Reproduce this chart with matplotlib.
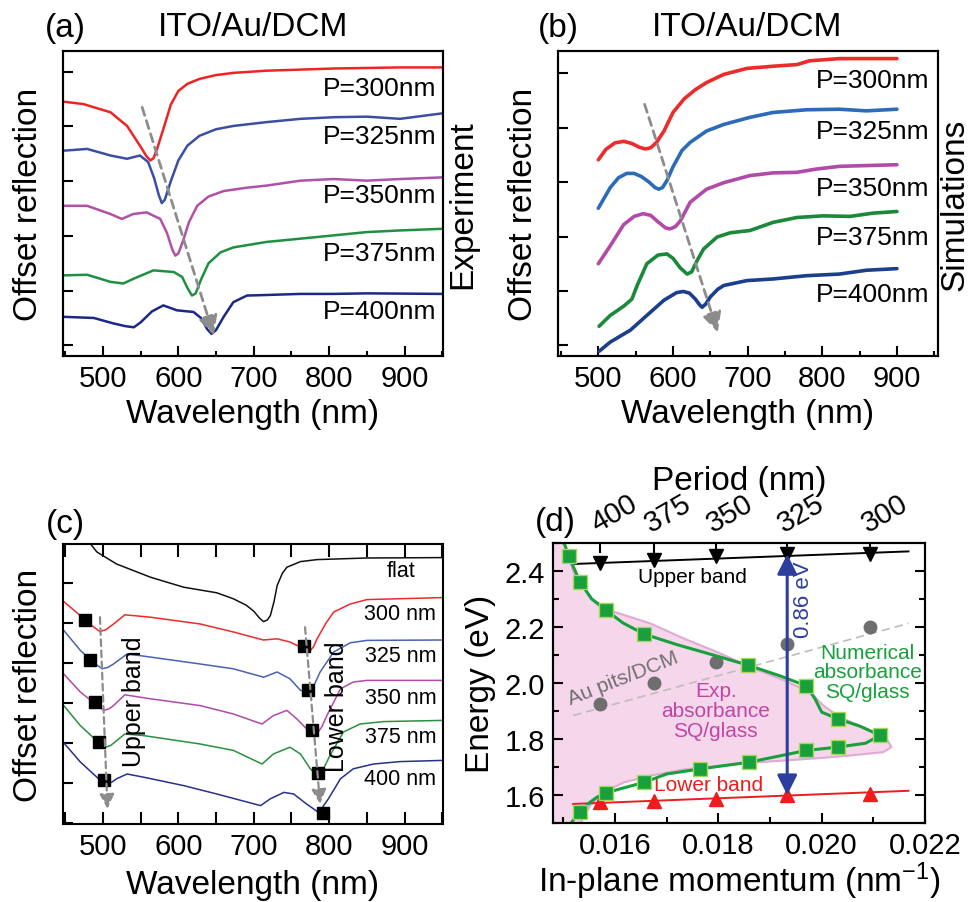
import numpy as np
import matplotlib
matplotlib.use("Agg")
from matplotlib import pyplot as plt
from matplotlib.ticker import MultipleLocator

plt.rcParams['font.family'] = ['Liberation Sans', 'DejaVu Sans']
plt.rcParams['mathtext.default'] = 'regular'
plt.rcParams['axes.linewidth'] = 1.5

# ---------------- panel (a): experiment, ITO/Au/DCM ----------------
a_periods = ["P=300nm", "P=325nm", "P=350nm", "P=375nm", "P=400nm"]
a_label_y = [4.71, 3.82, 2.74, 1.69, 0.62]
a_colors = ["#ee2424", "#3b4ea5", "#b050a8", "#1e9040", "#1c2888"]

a300_wl = [450, 474, 510, 532, 549, 558, 563, 567, 572, 580, 590, 600, 612, 628, 650, 673, 717, 762, 806, 850, 894, 950]
a300_y = [4.45, 4.41, 4.26, 4.01, 3.65, 3.45, 3.38, 3.42, 3.60, 3.95, 4.40, 4.65, 4.78, 4.87, 4.94, 4.98, 5.02, 5.04, 5.06, 5.07, 5.08, 5.08]
a325_wl = [450, 479, 510, 532, 549, 560, 568, 574, 578, 582, 590, 600, 612, 628, 650, 673, 717, 762, 806, 850, 894, 950]
a325_y = [3.56, 3.59, 3.47, 3.41, 3.47, 3.35, 3.05, 2.75, 2.60, 2.66, 3.00, 3.38, 3.65, 3.83, 3.95, 4.01, 4.08, 4.14, 4.17, 4.18, 4.14, 4.24]
a350_wl = [450, 479, 510, 525, 540, 558, 576, 585, 592, 596, 600, 606, 614, 625, 640, 660, 690, 717, 762, 806, 850, 894, 950]
a350_y = [2.55, 2.55, 2.40, 2.31, 2.40, 2.43, 2.31, 2.05, 1.75, 1.64, 1.68, 1.90, 2.25, 2.55, 2.72, 2.82, 2.88, 2.92, 3.01, 3.04, 3.01, 3.04, 3.07]
a375_wl = [450, 479, 510, 527, 541, 567, 594, 605, 612, 618, 623, 630, 640, 656, 673, 717, 762, 806, 850, 894, 950]
a375_y = [1.28, 1.29, 1.16, 1.13, 1.22, 1.37, 1.34, 1.25, 1.05, 0.91, 0.95, 1.20, 1.50, 1.70, 1.79, 1.89, 1.95, 2.01, 2.07, 2.10, 2.13]
a400_wl = [450, 488, 514, 530, 541, 550, 565, 580, 598, 620, 630, 638, 644, 650, 660, 673, 691, 717, 762, 806, 850, 950]
a400_y = [0.52, 0.50, 0.40, 0.35, 0.33, 0.42, 0.62, 0.73, 0.64, 0.61, 0.50, 0.30, 0.21, 0.28, 0.52, 0.79, 0.91, 0.92, 0.94, 0.94, 0.95, 0.94]
a_arrow = [(552, 4.35), (647, 0.18)]

# ---------------- panel (b): simulations ----------------
b_label_y = [4.88, 3.94, 2.90, 2.00, 0.95]
b_colors = ["#ee2b2b", "#2b6cb8", "#b24ba8", "#1a8a3a", "#1a3f8c"]

b300_wl = [500, 510, 522, 534, 545, 555, 563, 570, 578, 588, 600, 615, 630, 645, 668, 699, 734, 766, 783, 823, 900]
b300_y = [3.41, 3.60, 3.72, 3.75, 3.71, 3.64, 3.61, 3.63, 3.73, 3.94, 4.28, 4.53, 4.70, 4.83, 4.98, 5.09, 5.13, 5.16, 5.23, 5.27, 5.27]
b325_wl = [500, 516, 527, 538, 548, 558, 568, 576, 581, 586, 592, 600, 612, 623, 645, 668, 703, 734, 779, 823, 859, 900]
b325_y = [2.52, 2.90, 3.08, 3.16, 3.16, 3.10, 3.00, 2.90, 2.87, 2.90, 3.03, 3.28, 3.58, 3.73, 3.94, 4.06, 4.19, 4.28, 4.33, 4.34, 4.31, 4.34]
b350_wl = [500, 516, 534, 548, 560, 570, 580, 590, 596, 603, 610, 623, 645, 668, 703, 734, 766, 792, 823, 900]
b350_y = [1.50, 1.83, 2.22, 2.37, 2.42, 2.39, 2.27, 2.16, 2.14, 2.18, 2.29, 2.63, 2.87, 2.99, 3.12, 3.17, 3.18, 3.24, 3.29, 3.32]
b375_wl = [501, 516, 534, 545, 552, 565, 580, 592, 600, 610, 619, 625, 632, 641, 659, 677, 703, 734, 766, 801, 837, 868, 900]
b375_y = [0.35, 0.55, 0.72, 0.85, 1.10, 1.50, 1.66, 1.68, 1.60, 1.42, 1.31, 1.35, 1.55, 1.77, 1.99, 2.07, 2.11, 2.26, 2.35, 2.38, 2.37, 2.43, 2.46]
b400_wl = [501, 516, 543, 565, 588, 605, 614, 622, 630, 636, 639, 644, 650, 660, 668, 699, 734, 779, 823, 859, 900]
b400_y = [-0.11, 0.06, 0.28, 0.55, 0.83, 0.97, 0.99, 0.96, 0.85, 0.74, 0.70, 0.76, 0.89, 1.03, 1.10, 1.19, 1.22, 1.28, 1.31, 1.38, 1.41]
b_arrow = [(562, 4.43), (660, 0.24)]

# ---------------- panel (c): experiment, upper / lower band ----------------
c_names = ["flat", "300 nm", "325 nm", "350 nm", "375 nm", "400 nm"]
c_label_y = [5.32, 4.25, 3.19, 2.15, 1.17, 0.11]
c_colors = ["#111111", "#ee2a2a", "#4a62b0", "#b04aa8", "#2a9040", "#28308a"]

cflat_wl = [470, 492, 518, 563, 607, 651, 673, 690, 700, 708, 713, 718, 722, 727, 731, 738, 744, 762, 784, 850, 950]
cflat_y = [6.3, 5.78, 5.48, 5.15, 4.90, 4.76, 4.61, 4.45, 4.30, 4.12, 4.04, 4.08, 4.19, 4.55, 4.94, 5.25, 5.40, 5.54, 5.59, 5.63, 5.64]
c300_wl = [448, 470, 488, 496, 504, 514, 529, 563, 629, 673, 713, 731, 748, 762, 773, 779, 784, 795, 806, 828, 850, 950]
c300_y = [4.54, 4.19, 3.90, 3.79, 3.84, 3.98, 4.21, 4.15, 3.98, 3.78, 3.58, 3.61, 3.53, 3.40, 3.28, 3.40, 3.61, 3.98, 4.28, 4.48, 4.59, 4.64]
c325_wl = [448, 470, 490, 499, 507, 514, 532, 549, 629, 673, 713, 731, 748, 762, 773, 780, 788, 806, 828, 850, 950]
c325_y = [3.82, 3.32, 2.98, 2.86, 2.90, 2.98, 3.23, 3.19, 2.98, 2.86, 2.65, 2.78, 2.61, 2.32, 2.28, 2.45, 2.78, 3.28, 3.51, 3.57, 3.58]
c350_wl = [448, 470, 492, 501, 508, 514, 529, 563, 629, 673, 711, 726, 744, 757, 770, 782, 790, 797, 815, 832, 850, 950]
c350_y = [2.73, 2.28, 1.95, 1.82, 1.86, 1.94, 2.21, 2.11, 1.94, 1.73, 1.48, 1.69, 1.82, 1.61, 1.36, 1.19, 1.40, 1.69, 2.36, 2.53, 2.57, 2.57]
c375_wl = [448, 470, 494, 503, 510, 516, 529, 554, 629, 673, 711, 726, 748, 762, 775, 786, 793, 801, 819, 841, 872, 950]
c375_y = [1.94, 1.44, 1.02, 0.90, 0.94, 1.03, 1.23, 1.19, 0.98, 0.82, 0.48, 0.73, 0.90, 0.73, 0.36, 0.15, 0.38, 0.69, 1.28, 1.48, 1.54, 1.57]
c400_wl = [448, 470, 496, 505, 512, 518, 532, 554, 607, 651, 709, 722, 740, 753, 770, 786, 792, 799, 815, 832, 859, 894, 950]
c400_y = [1.01, 0.53, 0.08, -0.02, 0.03, 0.11, 0.23, 0.15, -0.06, -0.27, -0.56, -0.39, -0.23, -0.27, -0.52, -0.73, -0.58, -0.39, 0.11, 0.36, 0.48, 0.54, 0.57]

c_up_wl = [476, 483, 489, 495, 502]
c_up_y = [4.07, 3.09, 2.03, 1.04, 0.07]
c_lo_wl = [767, 772, 777, 785, 792]
c_lo_y = [3.43, 2.32, 1.32, 0.25, -0.75]
c_arrow_up = [(496, 4.15), (506, -0.64)]
c_arrow_lo = [(768, 3.90), (788, -0.52)]

# ---------------- panel (d): dispersion ----------------
d_periods = [400, 375, 350, 325, 300]
d_upper_E = [2.43, 2.44, 2.453, 2.46, 2.46]
d_lower_E = [1.575, 1.58, 1.585, 1.60, 1.605]
d_pits_E = [1.926, 2.00, 2.076, 2.141, 2.201]
d_upper_fit_k = [0.01519, 0.02168]
d_upper_fit_E = [2.425, 2.47]
d_lower_fit_k = [0.01519, 0.02168]
d_lower_fit_E = [1.568, 1.615]
d_pits_fit_k = [0.01519, 0.02168]
d_pits_fit_E = [1.884, 2.213]

d_num_k = [0.01510, 0.01532, 0.01582, 0.01656, 0.01857, 0.01970, 0.02031, 0.02113,
           0.02031, 0.01970, 0.01859, 0.01764, 0.01656, 0.01582, 0.01532]
d_num_E = [2.455, 2.362, 2.261, 2.175, 2.064, 1.990, 1.872, 1.813,
           1.771, 1.759, 1.717, 1.693, 1.645, 1.607, 1.540]
d_numfit_k = [0.01498, 0.01510, 0.01532, 0.01555, 0.01582, 0.01615, 0.01656, 0.01720, 0.01790,
              0.01857, 0.01920, 0.01970, 0.01987, 0.02000, 0.02031, 0.02075, 0.02113,
              0.02085, 0.02031, 0.01970, 0.01859, 0.01764, 0.01700, 0.01656, 0.01610,
              0.01582, 0.01565, 0.01550, 0.01532, 0.01515]
d_numfit_E = [2.52, 2.455, 2.362, 2.300, 2.261, 2.215, 2.175, 2.137, 2.100,
              2.064, 2.025, 1.990, 1.944, 1.896, 1.872, 1.845, 1.813,
              1.785, 1.771, 1.759, 1.717, 1.693, 1.675, 1.645, 1.622,
              1.607, 1.592, 1.572, 1.540, 1.500]
d_exp_k = [0.01497, 0.01506, 0.01519, 0.01552, 0.01597, 0.01668, 0.01733, 0.01797, 0.01861,
           0.01926, 0.01977, 0.02003, 0.02035, 0.02087, 0.02126, 0.02135, 0.02119, 0.02055,
           0.01990, 0.01926, 0.01861, 0.01797, 0.01733, 0.01668, 0.01617, 0.01578, 0.01552, 0.01533]
d_exp_E = [2.50, 2.48, 2.398, 2.303, 2.255, 2.213, 2.159, 2.111, 2.058,
           2.010, 1.968, 1.920, 1.878, 1.837, 1.800, 1.771, 1.753, 1.741,
           1.731, 1.723, 1.715, 1.703, 1.691, 1.669, 1.645, 1.610, 1.562, 1.500]
d_gap = [1.60, 2.46]

fig = plt.figure(figsize=(9.76, 9.03), dpi=100)
W, H = 976.0, 903.0


def box(x0, y0, x1, y1):
    return [x0 / W, 1 - y1 / H, (x1 - x0) / W, (y1 - y0) / H]


def dash_arrow(ax, p0, p1, lw=2.0, ms=30):
    ax.annotate('', xy=p1, xytext=p0,
                arrowprops=dict(arrowstyle='-|>', color='#8c8c8c', lw=lw,
                                ls=(0, (3, 2)), mutation_scale=ms, shrinkA=0, shrinkB=0))


def style_spectra(ax, top=False, tick_len=7, xpad=2):
    ax.xaxis.set_major_locator(MultipleLocator(100))
    ax.xaxis.set_minor_locator(MultipleLocator(50))
    ax.yaxis.set_major_locator(MultipleLocator(1))
    ax.tick_params(axis='x', which='both', direction='in', bottom=True, top=top,
                   labelsize=21, pad=6, width=1.5)
    ax.tick_params(axis='x', which='major', length=tick_len)
    ax.tick_params(axis='x', which='minor', length=tick_len if top else 3.5)
    ax.tick_params(axis='y', which='both', direction='in', left=True, right=False,
                   labelleft=False, length=7, width=1.5)
    ax.set_xlabel("Wavelength (nm)", fontsize=24, labelpad=xpad)
    ax.set_ylabel("Offset reflection", fontsize=24, labelpad=14)


# ---- (a)
ax = fig.add_axes(box(63, 52, 443, 357))
a_sets = [(a300_wl, a300_y), (a325_wl, a325_y), (a350_wl, a350_y), (a375_wl, a375_y), (a400_wl, a400_y)]
for (wl, y), c, lab, ly in zip(a_sets, a_colors, a_periods, a_label_y):
    ax.plot(wl, y, color=c, lw=1.8)
    ax.text(942, ly, lab, fontsize=19, ha='right', va='center')
dash_arrow(ax, a_arrow[0], a_arrow[1])
ax.set_xlim(447, 951)
ax.set_ylim(-0.195, 5.38)
style_spectra(ax, xpad=4)
ax2 = ax.twinx()
ax2.set_yticks([])
ax2.set_ylabel("Experiment", fontsize=24, labelpad=3)
fig.text(65 / W, 1 - 28 / H, "(a)", fontsize=24, ha='center', va='center')
fig.text(253 / W, 1 - 28 / H, "ITO/Au/DCM", fontsize=24, ha='center', va='center')

# ---- (b)
ax = fig.add_axes(box(558, 52, 938, 357))
b_sets = [(b300_wl, b300_y), (b325_wl, b325_y), (b350_wl, b350_y), (b375_wl, b375_y), (b400_wl, b400_y)]
for (wl, y), c, lab, ly in zip(b_sets, b_colors, a_periods, b_label_y):
    ax.plot(wl, y, color=c, lw=2.6, solid_capstyle='round', solid_joinstyle='round')
    ax.text(944, ly, lab, fontsize=19, ha='right', va='center')
dash_arrow(ax, b_arrow[0], b_arrow[1])
ax.set_xlim(446, 955)
ax.set_ylim(-0.196, 5.41)
style_spectra(ax, xpad=4)
ax2 = ax.twinx()
ax2.set_yticks([])
ax2.set_ylabel("Simulations", fontsize=24, labelpad=1)
fig.text(558 / W, 1 - 28 / H, "(b)", fontsize=24, ha='center', va='center')
fig.text(747 / W, 1 - 28 / H, "ITO/Au/DCM", fontsize=24, ha='center', va='center')

# ---- (c)
ax = fig.add_axes(box(63, 545, 443, 825))
c_sets = [(cflat_wl, cflat_y), (c300_wl, c300_y), (c325_wl, c325_y), (c350_wl, c350_y),
          (c375_wl, c375_y), (c400_wl, c400_y)]
for (wl, y), c, lab, ly in zip(c_sets, c_colors, c_names, c_label_y):
    ax.plot(wl, y, color=c, lw=1.1)
    ax.text(942 if lab != "flat" else 915, ly, lab, fontsize=15.5, ha='right', va='center')
dash_arrow(ax, c_arrow_up[0], c_arrow_up[1], lw=1.6, ms=22)
dash_arrow(ax, c_arrow_lo[0], c_arrow_lo[1], lw=1.6, ms=22)
ax.plot(c_up_wl, c_up_y, 's', color='black', ms=8)
ax.plot(c_lo_wl, c_lo_y, 's', color='black', ms=8)
ax.text(541, 2.07, "Upper band", fontsize=18, rotation=90, ha='center', va='center')
ax.text(810, 1.94, "Lower band", fontsize=18, rotation=90, ha='center', va='center')
ax.set_xlim(447, 951)
ax.set_ylim(-1.02, 5.98)
style_spectra(ax, top=True, tick_len=9, xpad=6)
fig.text(65 / W, 1 - 525 / H, "(c)", fontsize=24, ha='center', va='center')

# ---- (d)
ax = fig.add_axes(box(553, 544, 925, 824))
kP = 2 * np.pi / np.array(d_periods)
ax.fill(d_exp_k + [0.0147, 0.0147], d_exp_E + [1.5, 2.5], facecolor='#f6d6ea',
        edgecolor='none', zorder=0)
ax.plot(d_exp_k, d_exp_E, color='#e2a8d6', lw=1.5, zorder=1)
ax.plot(d_pits_fit_k, d_pits_fit_E, color='#bdbdbd', lw=1.2, ls=(0, (5, 3)), zorder=2)
ax.plot(kP, d_pits_E, 'o', color='#6e6e6e', ms=9, zorder=3)
ax.plot(d_upper_fit_k, d_upper_fit_E, color='black', lw=1.4, zorder=2)
ax.plot(kP, d_upper_E, 'v', color='black', ms=10, zorder=3)
ax.plot(d_lower_fit_k, d_lower_fit_E, color='#ee1c1c', lw=1.4, zorder=2)
ax.plot(kP, d_lower_E, '^', color='#ee1c1c', ms=10, zorder=3)
ax.plot(d_numfit_k, d_numfit_E, color='#17a03c', lw=2.2, zorder=4)
ax.plot(d_num_k, d_num_E, 's', color='#17a03c', mec='#a6d85a', mew=1.0, ms=10, zorder=5)
ax.annotate('', xy=(kP[3], d_gap[0]), xytext=(kP[3], d_gap[1]),
            arrowprops=dict(arrowstyle='<|-|>', color='#2c3e9f', lw=2.2,
                            mutation_scale=30, shrinkA=0, shrinkB=0), zorder=6)
ax.text(0.01964, 2.30, "0.86 eV", color='#2c3e9f', fontsize=16, rotation=90,
        ha='center', va='center')
ax.text(0.01749, 2.38, "Upper band", fontsize=15, ha='center', va='center')
ax.text(0.01782, 1.639, "Lower band", fontsize=15, color='#ee1c1c', ha='center', va='center')
ax.text(0.01616, 2.02, "Au pits/DCM", fontsize=15, color='#707070', rotation=21.5,
        ha='center', va='center')
ax.text(0.01795, 1.902, "Exp.\nabsorbance\nSQ/glass", fontsize=15, color='#c046a6',
        ha='center', va='center', linespacing=1.05)
ax.text(0.02089, 2.04, "Numerical\nabsorbance\nSQ/glass", fontsize=15, color='#17a03c',
        ha='center', va='center', linespacing=1.05)
ax.set_xlim(0.0148, 0.0220)
ax.set_ylim(1.5, 2.5)
ax.xaxis.set_major_locator(MultipleLocator(0.002))
ax.xaxis.set_minor_locator(MultipleLocator(0.001))
ax.yaxis.set_major_locator(MultipleLocator(0.2))
ax.yaxis.set_minor_locator(MultipleLocator(0.1))
ax.set_xticks([0.016, 0.018, 0.020, 0.022])
ax.set_xticklabels(["0.016", "0.018", "0.020", "0.022"])
ax.tick_params(which='both', direction='in', top=True, right=True, width=1.5,
               labelsize=21, pad=6)
ax.tick_params(which='major', length=7)
ax.tick_params(which='minor', length=4)
ax.set_xlabel("In-plane momentum (nm$^{-1}$)", fontsize=24, labelpad=0)
ax.set_ylabel("Energy (eV)", fontsize=24, labelpad=6)
axt = ax.twiny()
axt.set_xlim(ax.get_xlim())
axt.set_xticks(kP)
axt.set_xticklabels([str(p) for p in d_periods])
axt.tick_params(direction='in', length=7, width=1.5, labelsize=21, pad=4)
for t in axt.get_xticklabels():
    t.set_rotation(30)
    t.set_ha('left')
    t.set_rotation_mode('anchor')
axt.set_xlabel("Period (nm)", fontsize=24, labelpad=0)
fig.text(555 / W, 1 - 522 / H, "(d)", fontsize=24, ha='center', va='center')

fig.savefig("out.png", dpi=100)
